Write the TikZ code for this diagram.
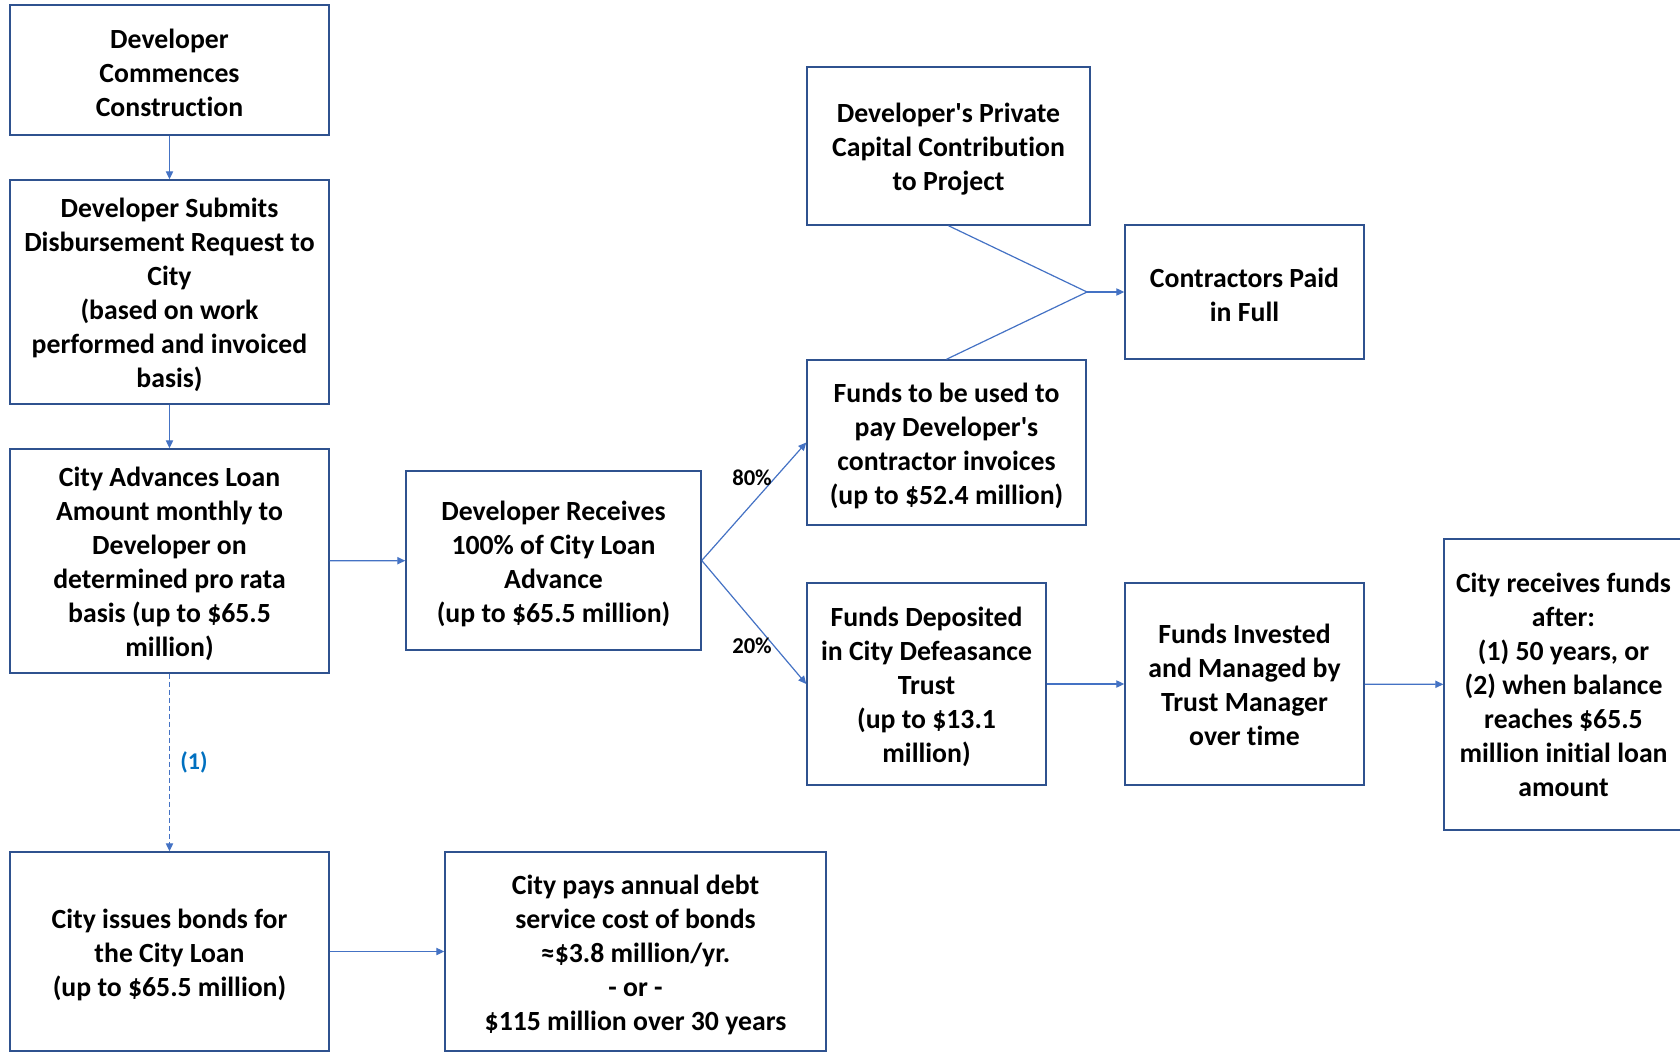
\documentclass[tikz,border=0pt]{standalone}
\usepackage{fontspec}
\newfontfamily\calb{Carlito}[Ligatures=NoCommon]
\usetikzlibrary{arrows.meta}
\definecolor{boxc}{HTML}{2F528F}
\definecolor{linec}{HTML}{4472C4}
\definecolor{lblc}{HTML}{0070C0}
\tikzset{
  box/.style={draw=boxc, line width=1.1pt, fill=white, inner sep=0pt},
  txt/.style={align=center, inner sep=0pt, yshift=-2.4pt,
    font=\calb\bfseries\fontsize{20.8}{25.5}\selectfont},
  bx/.style 2 args={minimum width=#1*0.75pt, minimum height=#2*0.75pt},
  conn/.style={draw=linec, line width=0.9pt, -{Triangle[length=6pt,width=5.5pt]}},
  plain/.style={draw=linec, line width=0.9pt},
  pct/.style={font=\calb\bfseries\fontsize{17}{19}\selectfont, inner sep=0pt},
}
\begin{document}
\begin{tikzpicture}[x=0.75pt,y=-0.75pt]
\useasboundingbox (0,0) rectangle (1680,1052);
\clip (0,0) rectangle (1680,1052);
\node[box, bx={319}{130}, label={[txt]center:{Developer\\Commences\\Construction}}] (A) at (169.5,70) {};
\node[box, bx={319}{224}, label={[txt]center:{Developer Submits\\Disbursement Request to\\City\\(based on work\\performed and invoiced\\basis)}}] (B) at (169.5,292) {};
\node[box, bx={319}{224}, label={[txt]center:{City Advances Loan\\Amount monthly to\\Developer on\\determined pro rata\\basis (up to \$65.5\\million)}}] (C) at (169.5,561) {};
\node[box, bx={319}{199}, label={[txt]center:{City issues bonds for\\the City Loan\\(up to \$65.5 million)}}] (D) at (169.5,951.5) {};
\node[box, bx={381}{199}, label={[txt]center:{City pays annual debt\\service cost of bonds\\≈\$3.8 million/yr.\\- or -\\\$115 million over 30 years}}] (E) at (635.5,951.5) {};
\node[box, bx={295}{179}, label={[txt]center:{Developer Receives\\100\% of City Loan\\Advance\\(up to \$65.5 million)}}] (F) at (553.5,560.5) {};
\node[box, bx={283}{158}, label={[txt]center:{Developer's Private\\Capital Contribution\\to Project}}] (G) at (948.5,146) {};
\node[box, bx={239}{134}, label={[txt]center:{Contractors Paid\\in Full}}] (H) at (1244.5,292) {};
\node[box, bx={279}{165}, label={[txt]center:{Funds to be used to\\pay Developer's\\contractor invoices\\(up to \$52.4 million)}}] (I) at (946.5,442.5) {};
\node[box, bx={239}{202}, label={[txt]center:{Funds Deposited\\in City Defeasance\\Trust\\(up to \$13.1\\million)}}] (J) at (926.5,684) {};
\node[box, bx={239}{202}, label={[txt, yshift=1.6pt]center:{Funds Invested\\and Managed by\\Trust Manager\\over time}}] (K) at (1244.5,684) {};
\node[box, bx={239}{291}, label={[txt, yshift=2.4pt]center:{City receives funds\\after:\\(1) 50 years, or\\(2) when balance\\reaches \$65.5\\million initial loan\\amount}}] (L) at (1563.5,684.5) {};
\coordinate (jn) at (1087,292);
\draw[conn] (A) -- (B);
\draw[conn] (B) -- (C);
\draw[conn] (C) -- (F);
\draw[conn] (F.east) -- (I.west);
\draw[conn] (F.east) -- (J.west);
\draw[plain] (G.south) -- (jn);
\draw[plain] (I.north) -- (jn);
\draw[conn] (jn) -- (H.west);
\draw[conn] (J) -- (K);
\draw[conn] (K) -- (L);
\draw[conn, dash pattern=on 3.75pt off 2.25pt] (C) -- (D);
\draw[conn] (D) -- (E);
\node[pct] (p80) at (752,478) {80\%};
\node[pct] (p20) at (752,646) {20\%};
\node[pct, text=lblc, font=\calb\bfseries\fontsize{18}{20}\selectfont] (n1) at (194,762) {(1)};
\end{tikzpicture}
\end{document}
